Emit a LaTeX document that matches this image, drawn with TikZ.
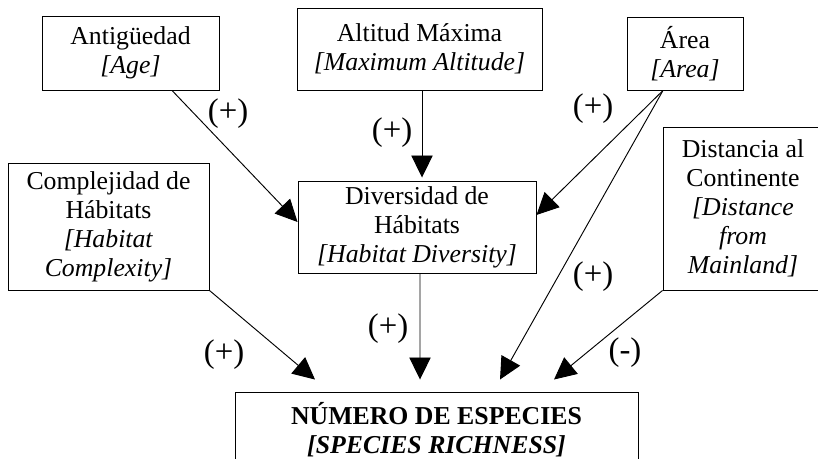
\documentclass[tikz,border=0pt]{standalone}
\usepackage{fontspec}
\setmainfont{Liberation Serif}
\usetikzlibrary{arrows.meta}
\tikzset{
  factor/.style={draw,line width=0.8pt,align=center,inner sep=0pt,font=\fontsize{22}{24.7}\selectfont},
  effect/.style={line width=0.8pt,-{Triangle[length=0.66cm,width=0.64cm]}},
  sign/.style={inner sep=0pt,font=\fontsize{28}{30}\selectfont}
}

\begin{document}
\begin{tikzpicture}[x=0.03cm,y=0.03cm]
    \useasboundingbox (0,0) rectangle (818,459);
    % factores
    \node[factor,minimum width=5.31cm,minimum height=2.22cm] (age) at (130.5,406) {Antigüedad\\\textit{[Age]}};
    \node[factor,minimum width=7.35cm,minimum height=2.46cm] (alt) at (419.5,410) {Altitud Máxima\\\textit{[Maximum Altitude]}};
    \node[factor,minimum width=3.48cm,minimum height=2.19cm] (area) at (685,405.5) {Área\\\textit{[Area]}};
    \node[factor,minimum width=6.03cm,minimum height=3.81cm] (comp) at (108.5,232.5) {Complejidad de\\Hábitats\\\textit{[Habitat}\\\textit{Complexity]}};
    \node[factor,minimum width=7.14cm,minimum height=2.76cm] (div) at (417,232) {Diversidad de\\Hábitats\\\textit{[Habitat Diversity]}};
    \node[factor,minimum width=4.8cm,minimum height=4.89cm] (dist) at (743,250.5) {Distancia al\\Continente\\\textit{[Distance}\\\textit{from}\\\textit{Mainland]}};
    \node[factor,minimum width=12.09cm,minimum height=2.25cm] (num) at (436.5,29.5) {\textbf{NÚMERO DE ESPECIES}\\\textbf{\textit{[SPECIES RICHNESS]}}};
    % efectos
    \draw[effect] ([xshift=1.245cm]age.south) -- ([yshift=0.15cm]div.west);
    \draw[effect] ([xshift=0.075cm]alt.south) -- ([xshift=0.075cm,yshift=0.09cm]alt.south |- div.north);
    \draw[effect] ([xshift=-0.66cm]area.south) -- ([yshift=0.36cm]div.east);
    \draw[effect] ([xshift=-0.66cm]area.south) -- ([xshift=1.905cm,yshift=0.36cm]num.north);
    \draw[effect] ([xshift=0.09cm]div.south) -- ([xshift=-0.495cm,yshift=0.36cm]num.north);
    \draw[effect] (comp.south east) -- ([xshift=-3.645cm,yshift=0.36cm]num.north);
    \draw[effect] (dist.south west) -- ([xshift=3.525cm,yshift=0.36cm]num.north);
    % signos
    \node[sign] (s1) at (228,345) {(+)};
    \node[sign] (s2) at (392,326) {(+)};
    \node[sign] (s3) at (593,350) {(+)};
    \node[sign] (s4) at (593,182) {(+)};
    \node[sign] (s5) at (388,130) {(+)};
    \node[sign] (s6) at (224,104) {(+)};
    \node[sign] (s7) at (625,106) {(-)};
\end{tikzpicture}
\end{document}
